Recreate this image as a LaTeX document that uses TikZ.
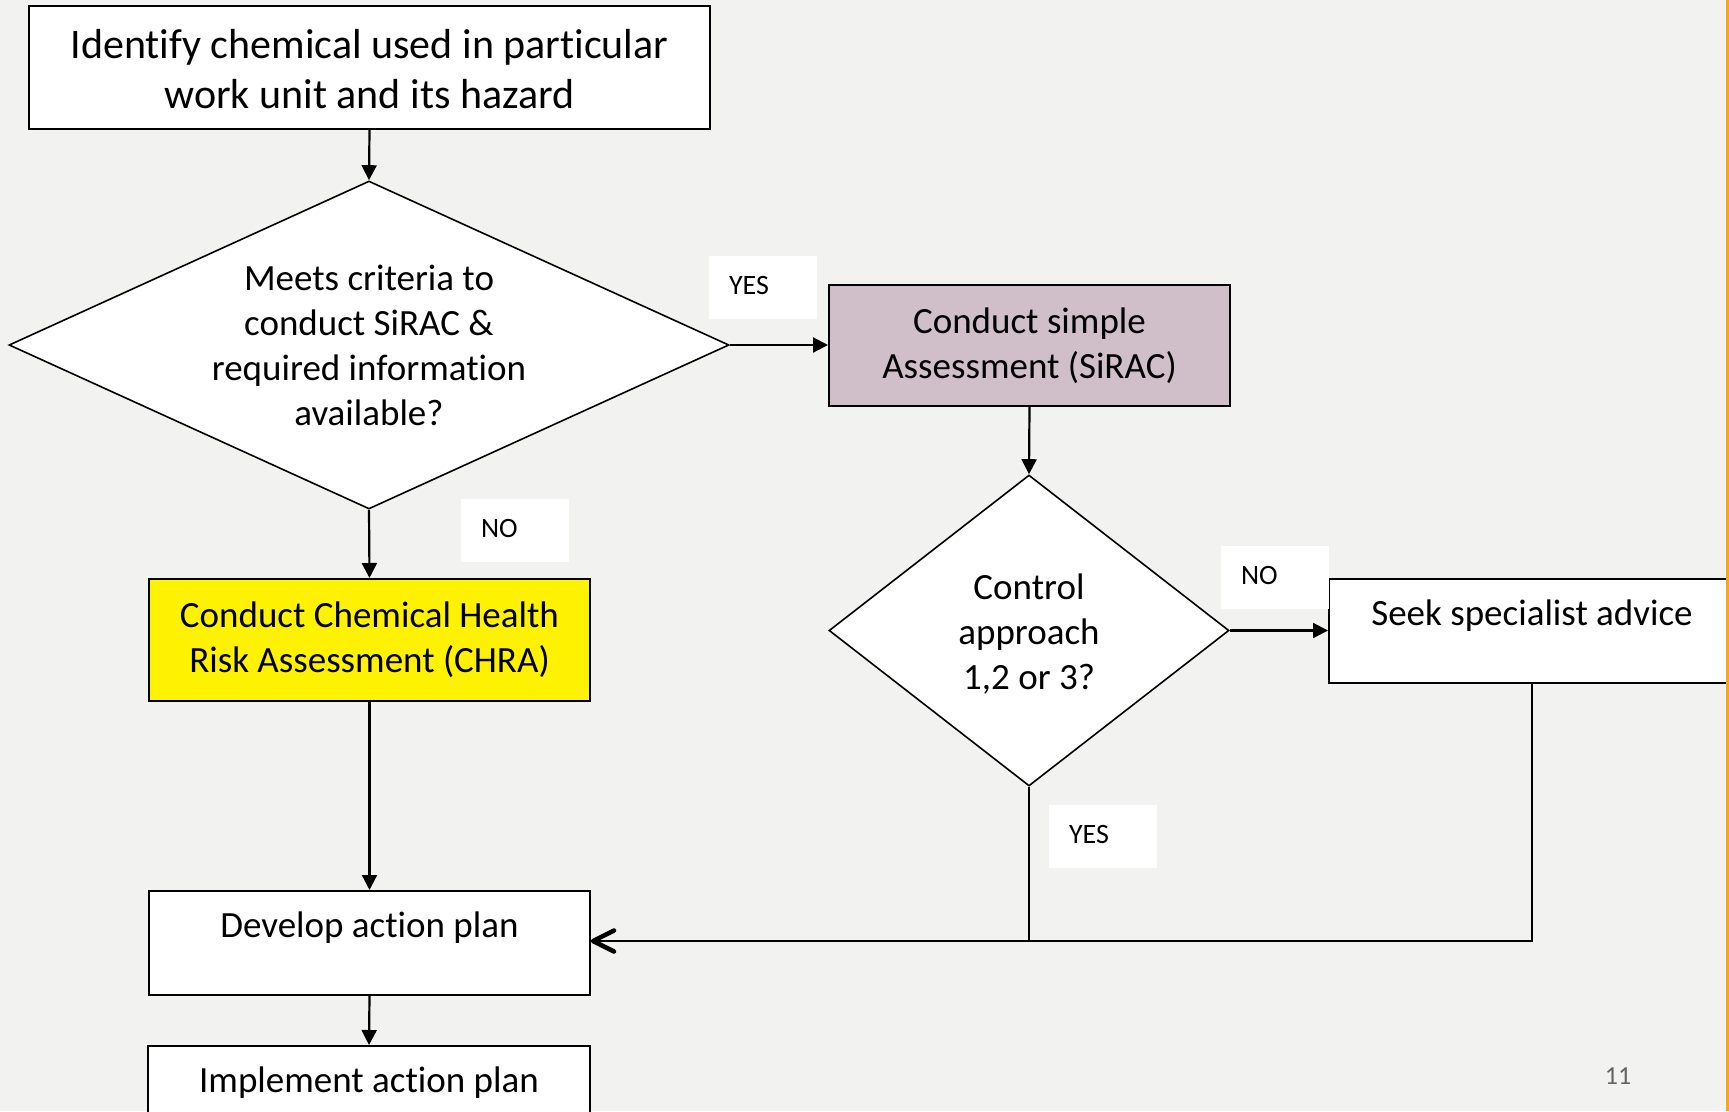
\documentclass[tikz,border=0pt]{standalone}
\usepackage{fontspec}
\setmainfont{Carlito}[Ligatures=NoCommon]
\usetikzlibrary{arrows.meta,shapes.geometric}
\definecolor{bg}{RGB}{242,242,240}
\definecolor{mauve}{RGB}{208,191,200}
\definecolor{orangeline}{RGB}{245,168,30}
\definecolor{pagegray}{RGB}{100,100,100}
\begin{document}
\begin{tikzpicture}[x=1pt,y=-1pt,
  procbox/.style={rectangle, draw=black, line width=2pt, fill=white, inner sep=0pt,
    align=center, font=\fontsize{37}{45}\selectfont},
  decision/.style={diamond, draw=black, line width=1.6pt, fill=white, inner sep=0pt,
    align=center, font=\fontsize{37}{45}\selectfont},
  toptext/.style={anchor=center, yshift=-37.5pt, inner sep=0pt, font=\fontsize{37}{45}\selectfont},
  tag/.style={rectangle, fill=white, inner xsep=20pt, inner ysep=0pt, text width=68pt,
    text height=18pt, text depth=4pt,
    minimum height=63pt, align=left, font=\fontsize{28}{34}\selectfont},
  flow/.style={line width=2.2pt, -{Triangle[length=15pt,width=15pt]}},
  joinline/.style={line width=2.4pt},
  chevron/.style={line width=4.5pt, line cap=round, line join=round}
]
\useasboundingbox (0,0) rectangle (1729,1111);
\clip (0,0) rectangle (1729,1111);
\fill[bg] (0,0) rectangle (1729,1111);

% nodes
\node[procbox, minimum width=681pt, minimum height=123pt,
  font=\fontsize{42}{50}\selectfont] (ident) at (369.5,67.5)
  {\parbox{681pt}{\centering\vspace*{4pt}Identify chemical used in particular\\work unit and its hazard}};
\node[decision, aspect=2.195, minimum width=720pt, minimum height=328pt] (d1) at (369,345)
  {Meets criteria to\\conduct SiRAC \&\\required information\\available?};
\node[procbox, fill=mauve, minimum width=401pt, minimum height=121pt] (sirac) at (1029.5,345.5)
  {Conduct simple\\Assessment (SiRAC)};
\node[decision, aspect=1.286, minimum width=400pt, minimum height=311pt] (d2) at (1029,630.5)
  {\parbox{200pt}{\centering\vspace*{8pt}Control\\approach\\1,2 or 3?}};
\node[procbox, fill=yellow, minimum width=441pt, minimum height=122pt] (chra) at (369.5,640)
  {Conduct Chemical Health\\Risk Assessment (CHRA)};
\node[procbox, minimum width=406pt, minimum height=104pt,
  label={[toptext]north:Seek specialist advice}] (seek) at (1532,631) {};
\node[procbox, minimum width=441pt, minimum height=104pt,
  label={[toptext]north:Develop action plan}] (plan) at (369.5,943) {};
\node[procbox, minimum width=442pt, minimum height=104pt,
  label={[toptext]north:Implement action plan}] (impl) at (369,1098) {};

% decision tags
\node[tag] (yes1) at (763,287.5) {YES};
\node[tag] (no1) at (515,530) {NO};
\node[tag] (no2) at (1275,577) {NO};
\node[tag] (yes2) at (1103,836.5) {YES};

% connectors
\draw[flow] (ident.south) -- (d1.north);
\draw[flow] (d1.east) -- (sirac.west |- d1.east);
\draw[flow] (d1.south) -- (chra.north);
\draw[flow] (sirac.south) -- (d2.north);
\draw[flow] (d2.east) -- (seek.west |- d2.east);
\draw[flow] (chra.south) -- (plan.north);
\draw[flow] (plan.south) -- (impl.north);
\coordinate (joinpt) at (d2.south |- 0,941);
\coordinate (tip) at ([xshift=2pt]plan.east |- joinpt);
\draw[joinline] (d2.south) -- (joinpt);
\draw[joinline] (seek.south) |- (tip);
% open arrow head at the end of the return connector
\draw[chevron] ([shift={(21,-10.5)}]tip) -- (tip) -- ([shift={(21,10.5)}]tip);

% page number and edge line
\node[font=\fontsize{26}{30}\selectfont, text=pagegray] (pg) at (1618,1076) {11};
\fill[orangeline] (1726,0) rectangle (1729,1111);
\end{tikzpicture}
\end{document}
